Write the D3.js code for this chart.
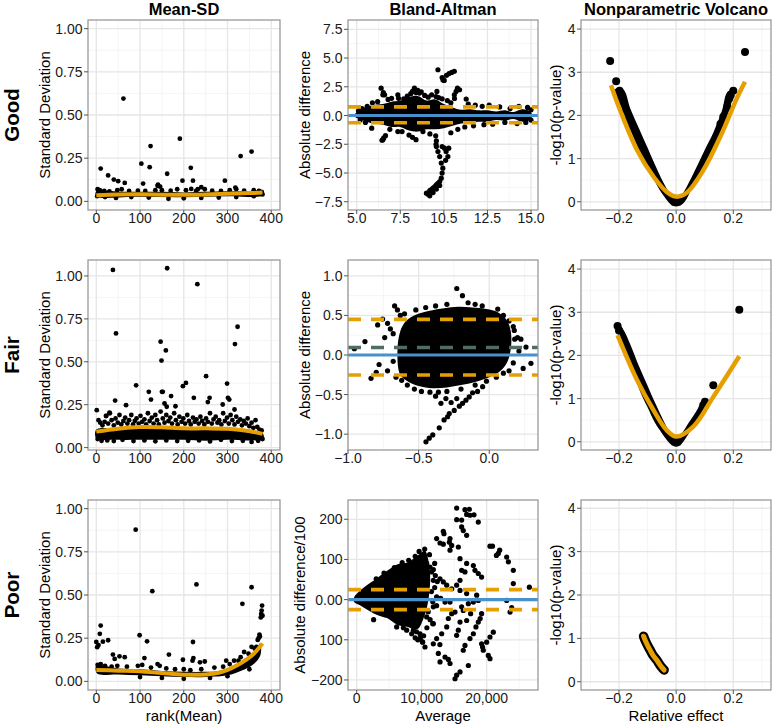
<!DOCTYPE html>
<html><head><meta charset="utf-8">
<script src="https://cdn.jsdelivr.net/npm/d3@7"></script>
<style>body{margin:0;background:#fff;} text{font-family:"Liberation Sans",Arial,Helvetica,sans-serif;}</style>
</head><body><svg id="c" width="776" height="725"></svg>
<script>
// ---------------- DATA ----------------
const rowLabels = ["Good","Fair","Poor"];
const colTitles = ["Mean-SD","Bland-Altman","Nonparametric Volcano"];
const xTitles = ["rank(Mean)","Average","Relative effect"];
const yTitlesMSD = "Standard Deviation";
const yTitlesBA = ["Absolute difference","Absolute difference","Absolute difference/100"];
const yTitleV = "-log10(p-value)";

const msdXTicks=[0,100,200,300,400], msdXLabels=["0","100","200","300","400"];
const msdYTicks=[0,0.25,0.5,0.75,1], msdYLabels=["0.00","0.25","0.50","0.75","1.00"];
const goodBAXTicks=[5,7.5,10,12.5,15], goodBAXLabels=["5.0","7.5","10.5","12.5","15.0"];
const goodBAYTicks=[-7.5,-5,-2.5,0,2.5,5,7.5], goodBAYLabels=["\u22127.5","\u22125.0","\u22122.5","0.0","2.5","5.0","7.5"];
const fairBAXTicks=[-1,-0.5,0], fairBAXLabels=["\u22121.0","\u22120.5","0.0"];
const fairBAYTicks=[-1,-0.5,0,0.5,1], fairBAYLabels=["\u22121.0","\u22120.5","0.0","0.5","1.0"];
const poorBAXTicks=[0,10000,20000], poorBAXLabels=["0","10,000","20,000"];
const poorBAYTicks=[-200,-100,0,100,200], poorBAYLabels=["\u2212200","100","0.00","100","200"];
const volXTicks=[-0.2,0,0.2], volXLabels=["\u22120.2","0.0","0.2"];
const volYTicks=[0,1,2,3,4], volYLabels=["0","1","2","3","4"];

// Mean-SD, Good
const goodMSD_core=[[0,0.06],[50,0.056],[100,0.056],[150,0.055],[200,0.052],[250,0.055],[300,0.058],[350,0.06],[382,0.062],[382,0.035],[300,0.03],[200,0.024],[100,0.026],[0,0.03]];
const goodMSD_pts=[[62,0.595],[10,0.19],[27,0.15],[40,0.126],[50,0.117],[65,0.107],[103,0.218],[107,0.103],[122,0.198],[124,0.32],[141,0.097],[146,0.085],[162,0.16],[191,0.363],[197,0.12],[216,0.194],[221,0.12],[217,0.072],[240,0.082],[294,0.12],[330,0.262],[355,0.288],[318,0.08],[232,0.07],[378,0.055],
[3,0.07],[8,0.065],[18,0.06],[30,0.058],[48,0.065],[58,0.07],[75,0.06],[95,0.062],[112,0.06],[135,0.065],[140,0.09],[150,0.065],[170,0.062],[185,0.07],[205,0.065],[228,0.06],[248,0.07],[265,0.062],[285,0.06],[305,0.065],[320,0.07],[338,0.062],[360,0.065],[372,0.06],
[2,0.03],[20,0.025],[45,0.02],[80,0.025],[120,0.022],[165,0.015],[200,0.018],[240,0.02],[280,0.022],[320,0.025],[360,0.03],[380,0.04]];
const goodMSD_fit=[[0,0.036],[50,0.04],[100,0.041],[150,0.039],[200,0.038],[250,0.04],[300,0.044],[350,0.048],[380,0.051]];

// Mean-SD, Fair
const fairMSD_core=[[0,0.105],[40,0.115],[80,0.12],[120,0.122],[160,0.12],[200,0.115],[240,0.115],[280,0.115],[320,0.11],[350,0.1],[380,0.085],[382,0.05],[350,0.042],[300,0.045],[250,0.04],[200,0.045],[150,0.045],[100,0.045],[50,0.045],[0,0.055]];
const fairMSD_pts=[[1,0.218],[38,1.035],[45,0.665],[43,0.274],[162,1.045],[231,0.952],[147,0.617],[149,0.507],[159,0.566],[152,0.325],[317,0.603],[323,0.704],[91,0.363],[120,0.325],[125,0.28],[150,0.325],[171,0.3],[156,0.257],[198,0.358],[205,0.377],[223,0.29],[251,0.416],[259,0.29],[255,0.265],[299,0.373],[301,0.29],[304,0.28],[289,0.251],[316,0.222],[181,0.241],[161,0.238],[68,0.247],[30,0.203],[22,0.184],
[5,0.16],[9,0.145],[14,0.13],[19,0.15],[23,0.185],[27,0.14],[31,0.2],[35,0.16],[40,0.13],[44,0.17],[49,0.145],[53,0.19],[57,0.135],[62,0.155],[66,0.175],[71,0.14],[75,0.16],[80,0.19],[84,0.135],[88,0.155],[92,0.17],[97,0.14],[101,0.185],[105,0.15],[110,0.165],[114,0.135],[118,0.2],[122,0.155],[127,0.175],[131,0.14],[135,0.19],[139,0.16],[143,0.135],[147,0.21],[152,0.17],[156,0.145],[160,0.19],[165,0.155],[169,0.175],[173,0.14],[178,0.2],[182,0.16],[186,0.135],[190,0.18],[195,0.15],[199,0.17],[203,0.14],[208,0.19],[212,0.155],[216,0.135],[221,0.175],[225,0.15],[229,0.165],[234,0.14],[238,0.18],[242,0.155],[247,0.135],[251,0.17],[255,0.15],[260,0.2],[264,0.14],[268,0.165],[273,0.18],[277,0.145],[281,0.16],[286,0.135],[290,0.2],[294,0.155],[299,0.175],[303,0.14],[307,0.19],[311,0.16],[316,0.135],[320,0.18],[324,0.15],[329,0.165],[333,0.13],[337,0.155],[342,0.14],[346,0.17],[350,0.125],[355,0.145],[359,0.115],[364,0.16],[368,0.12],[373,0.105],[378,0.1],
[3,0.05],[12,0.04],[25,0.042],[40,0.038],[60,0.045],[85,0.038],[110,0.042],[135,0.037],[160,0.042],[185,0.038],[210,0.04],[235,0.042],[260,0.036],[285,0.045],[310,0.038],[335,0.04],[355,0.033],[370,0.04],[380,0.05]];
const fairMSD_fit=[[0,0.093],[50,0.11],[100,0.12],[150,0.118],[200,0.112],[250,0.112],[300,0.11],[340,0.1],[380,0.08]];

// Mean-SD, Poor
const poorMSD_core=[[0,0.09],[50,0.075],[100,0.07],[150,0.06],[200,0.055],[250,0.055],[280,0.06],[300,0.075],[320,0.1],[340,0.13],[360,0.17],[375,0.22],[375,0.15],[360,0.1],[340,0.07],[320,0.05],[300,0.035],[250,0.025],[200,0.025],[150,0.03],[100,0.035],[50,0.04],[2,0.045]];
const poorMSD_pts=[[0,0.228],[2,0.198],[5,0.21],[8,0.275],[10,0.323],[15,0.23],[27,0.238],[38,0.155],[42,0.13],[53,0.145],[65,0.14],[90,0.878],[99,0.267],[110,0.135],[116,0.232],[128,0.522],[166,0.155],[198,0.125],[221,0.228],[220,0.12],[222,0.135],[229,0.561],[237,0.11],[248,0.115],[297,0.12],[334,0.449],[355,0.545],[379,0.439],
[3,0.095],[10,0.1],[20,0.09],[35,0.085],[48,0.09],[70,0.085],[95,0.09],[105,0.095],[125,0.08],[140,0.1],[145,0.09],[160,0.075],[180,0.07],[200,0.07],[215,0.065],[240,0.07],[270,0.08],[290,0.085],[305,0.1],[315,0.12],[325,0.12],[330,0.14],[338,0.17],[342,0.12],[348,0.16],[350,0.07],[355,0.2],[362,0.19],[366,0.2],[369,0.24],[371,0.25],[373,0.27],[374,0.26],[376,0.37],[377,0.39],[378,0.41],[380,0.38],
[100,0.025],[150,0.02],[200,0.015],[260,0.02],[300,0.03]];
const poorMSD_fit=[[0,0.066],[50,0.062],[100,0.058],[150,0.048],[200,0.039],[250,0.04],[280,0.05],[300,0.066],[320,0.09],[343,0.126],[360,0.16],[380,0.219]];

// Bland-Altman, Good
const goodBA_core=[[4.9,0.1],[5.3,0.6],[5.9,0.9],[6.5,1.0],[7.0,1.2],[7.5,1.3],[8.0,1.6],[8.5,1.7],[9.0,1.3],[9.5,1.4],[10.0,1.0],[10.5,0.7],[11.0,0.5],[11.5,0.55],[12.0,0.45],[12.5,0.45],[13.0,0.35],[13.5,0.45],[14.0,0.3],[14.5,0.55],[15.0,0.3],[15.0,-0.3],[14.5,-0.55],[14.0,-0.3],[13.5,-0.45],[13.0,-0.4],[12.5,-0.55],[12.0,-0.55],[11.5,-0.6],[11.0,-0.7],[10.5,-0.9],[10.0,-1.1],[9.5,-1.2],[9.0,-1.2],[8.5,-1.4],[8.0,-1.3],[7.5,-1.0],[7.0,-1.0],[6.5,-0.8],[5.9,-0.7],[5.3,-0.4],[4.9,-0.1]];
const goodBA_pts=[[5.1,0.4],[5.3,0.6],[5.6,0.8],[5.9,1.1],[6.2,1.2],[6.4,2.38],[6.5,1.8],[6.53,2.0],[6.6,1.8],[6.8,1.4],[7.0,1.5],[7.36,1.8],[7.4,1.5],[7.7,1.45],[7.9,1.7],[8.1,1.9],[8.2,2.1],[8.31,2.38],[8.4,2.0],[8.5,2.2],[8.6,1.95],[8.7,2.05],[8.9,1.75],[9.1,1.6],[9.3,1.8],[9.55,1.65],[9.6,2.1],[9.7,1.55],[9.9,1.45],[10.2,1.3],[10.4,1.1],[10.6,1.8],[10.61,1.48],[10.7,2.1],[10.78,2.38],[10.9,2.24],[11.28,1.43],[11.4,1.0],[11.8,0.9],[12.2,0.8],[12.6,0.9],[13.2,0.75],[13.8,0.6],[14.3,0.8],[14.8,0.7],[15.0,0.5],
[9.66,3.98],[9.9,3.3],[9.95,3.1],[10.02,3.05],[10.15,3.5],[10.3,3.65],[10.45,3.75],[10.6,3.85],
[5.2,-0.4],[5.5,-0.6],[5.86,-1.1],[6.45,-2.15],[6.5,-2.1],[6.55,-1.95],[6.65,-1.75],[6.9,-1.2],[7.36,-1.4],[7.6,-1.4],[8.0,-1.7],[8.4,-2.1],[8.2,-1.9],[8.8,-1.4],[9.2,-1.6],[9.55,-2.5],[10.4,-1.5],[10.8,-1.2],[11.2,-1.0],[11.7,-0.9],[12.3,-0.8],[12.8,-0.75],[13.5,-0.6],[14.2,-0.7],[14.7,-0.6],[15.0,-0.4],
[9.53,-1.77],[9.57,-2.2],[9.57,-2.7],[9.66,-3.13],[9.76,-3.57],[9.9,-2.7],[10.04,-2.84],[10.13,-3.13],[10.28,-2.84],[10.23,-3.57],[10.1,-3.9],[9.85,-4.14],[9.94,-4.58],[9.9,-5.01],[9.85,-5.45],[9.76,-5.74],[9.57,-6.03],[9.38,-6.32],[9.19,-6.53],[9.0,-6.76],[9.19,-6.99],[9.38,-6.7],[9.57,-6.4],[9.76,-6.09],[9.1,-6.85],[9.28,-6.45],[9.48,-6.18],[9.66,-5.9]];
const goodBA_ref=[0], goodBA_loa=[0.75,-0.63];

// Bland-Altman, Fair
const fairBA_core=[[-0.63,-0.25],[-0.65,0.05],[-0.63,0.3],[-0.59,0.43],[-0.52,0.51],[-0.42,0.56],[-0.32,0.59],[-0.22,0.61],[-0.12,0.6],[-0.02,0.58],[0.06,0.54],[0.12,0.45],[0.15,0.32],[0.155,0.12],[0.13,-0.08],[0.08,-0.2],[0.0,-0.28],[-0.1,-0.34],[-0.2,-0.38],[-0.3,-0.41],[-0.4,-0.42],[-0.5,-0.39],[-0.57,-0.34]];
const fairBA_pts=[[-0.67,0.62],[-0.65,0.57],[-0.63,0.5],[-0.755,0.455],[-0.79,0.38],[-0.72,0.4],[-0.7,0.33],[-0.68,0.27],[-0.74,0.22],[-0.88,0.17],[-0.955,0.08],[-0.6,0.52],[-0.52,0.57],[-0.45,0.6],[-0.38,0.62],[-0.3,0.64],[-0.23,0.84],[-0.19,0.75],[-0.15,0.66],[-0.1,0.64],[-0.05,0.62],[0.06,0.58],[0.1,0.5],[0.14,0.43],[0.17,0.36],[0.177,0.31],[0.18,0.2],[0.2,0.22],[0.224,0.2],[0.26,0.1],[0.295,-0.105],[0.24,-0.17],[0.21,0.05],[0.17,-0.1],[0.14,-0.2],
[-0.837,-0.295],[-0.8,-0.22],[-0.78,-0.12],[-0.72,-0.2],[-0.68,-0.08],[-0.66,-0.28],[-0.62,-0.32],
[-0.58,-0.38],[-0.53,-0.43],[-0.48,-0.46],[-0.42,-0.47],[-0.36,-0.47],[-0.3,-0.46],[-0.2,-0.43],[-0.1,-0.38],[-0.02,-0.33],[0.05,-0.28],[0.1,-0.23],
[-0.448,-1.097],[-0.425,-1.05],[-0.4,-1.01],[-0.354,-0.92],[-0.342,-0.61],[-0.295,-0.78],[-0.283,-0.74],[-0.248,-0.7],[-0.212,-0.646],[-0.189,-0.61],[-0.165,-0.57],[-0.142,-0.53],[-0.118,-0.477],[-0.083,-0.46],[-0.047,-0.4],[-0.307,-0.55],[-0.32,-0.82],[-0.27,-0.6],[-0.38,-0.52],[-0.23,-0.55]];
const fairBA_ref=[0], fairBA_mean=[0.095], fairBA_loa=[0.45,-0.253];

// Bland-Altman, Poor
const poorBA_core=[[-400,6],[500,22],[1500,35],[2700,48],[3800,62],[4800,73],[6300,88],[7900,93],[8900,104],[10000,118],[10500,122],[11000,100],[11300,60],[11200,20],[10800,-20],[10200,-50],[9500,-72],[8900,-74],[7900,-68],[6300,-63],[4800,-47],[3800,-42],[2700,-35],[1500,-24],[500,-14],[-400,-6]];
const poorBA_pts=[[15385,228],[15385,199],[16150,198],[16660,224],[17330,225],[16920,212],[17430,210],[18050,211],[18710,193],[16150,181],[16400,172],[16920,160],[13330,170],[13430,164],[12300,152],[12820,141],[13330,138],[14360,152],[14260,143],[14620,135],[15640,131],[14360,123],[15900,102],[17950,85],[18200,73],[18710,65],[19220,56],[16150,73],[16660,69],[16920,90],[20510,133],[20900,133],[21790,115],[22000,123],[21500,110],[23080,106],[23340,94],[24100,73],[24100,40],[26570,31],[23600,-31],[23850,-20],[23080,-2],[18460,11],[17180,-10],[16150,-18],[15130,-31],[14620,-35],[14100,-47],[13850,-68],[13080,-85],[12300,-97],[11790,-110],[10150,-106],[10510,-118],[12560,-134],[13590,-143],[12820,-155],[14360,-159],[14100,-149],[15130,-197],[15380,-188],[15900,-180],[17180,-164],[16400,-126],[16660,-114],[17430,-97],[17950,-85],[18350,-68],[18710,-56],[19000,-47],[19220,-35],[19480,-126],[19370,-118],[19220,-110],[20000,-106],[20510,-93],[20250,-139],[20510,-147],[21020,-81],[16400,-27],[15900,-56],[15640,-76],[15380,-89],[16920,-52],[17530,-35],[12920,3],[12300,7],[11790,48],[12820,52],[13330,44],[13850,36],[14620,27],[13590,-6],[14360,-6],[17950,-6],[18710,-2],[10770,90],[11280,81],[11540,69],[15380,36],[15900,48],[11790,-60],[10770,-43],[8720,-76],[8460,-85],[9740,-85],[7180,-70],[7690,-76],[6150,-68],[2600,-50],[11790,-18],[16920,15],[15900,23],
[12000,90],[11800,75],[12100,60],[12400,45],[12000,30],[11500,20],[11700,-5],[12300,-15],[11000,-30],[11300,-50],[10800,-70],[10300,-90],[9800,-95],[9400,-100],[10100,-105],[12800,-112],[11700,-60],[9000,-95],[9200,-80],[3000,52],[4200,66],[5800,80],[7000,92],[8000,98],[9000,108],[9600,120],[10460,126],[11200,112]];
const poorBA_ref=[0], poorBA_loa=[25,-25];

// Volcano, Good
const goodV_core=[[-0.215,2.6],[-0.19,2.15],[-0.16,1.65],[-0.13,1.2],[-0.1,0.8],[-0.07,0.42],[-0.045,0.15],[-0.025,-0.02],[-0.01,-0.1],[0.01,-0.1],[0.03,0.0],[0.055,0.3],[0.09,0.72],[0.125,1.15],[0.155,1.6],[0.18,2.0],[0.2,2.45],[0.205,2.6],[0.18,2.55],[0.16,2.1],[0.13,1.6],[0.1,1.2],[0.075,0.85],[0.045,0.45],[0.02,0.17],[0.0,0.1],[-0.02,0.18],[-0.045,0.45],[-0.07,0.8],[-0.1,1.25],[-0.13,1.7],[-0.16,2.15],[-0.185,2.6]];
const goodV_pts=[[-0.231,3.26],[-0.21,2.79],[-0.198,2.57],[-0.19,2.43],[-0.184,2.31],[-0.175,2.12],[-0.17,1.93],[-0.16,1.75],[0.241,3.47],[0.2,2.57],[0.191,2.47],[0.186,2.39],[0.179,2.2],[0.165,1.97],[0.155,1.8]];
const goodV_fit=[[-0.228,2.7],[-0.196,2.12],[-0.137,1.2],[-0.079,0.58],[-0.033,0.23],[0,0.12],[0.037,0.21],[0.095,0.73],[0.154,1.5],[0.212,2.39],[0.241,2.78]];

// Volcano, Fair
const fairV_core=[[-0.21,2.7],[-0.2,2.45],[-0.175,2.0],[-0.15,1.6],[-0.125,1.15],[-0.1,0.8],[-0.075,0.45],[-0.05,0.2],[-0.03,0.02],[-0.01,-0.1],[0.01,-0.1],[0.03,0.05],[0.055,0.3],[0.08,0.55],[0.105,0.85],[0.11,0.95],[0.095,0.97],[0.07,0.7],[0.045,0.45],[0.02,0.2],[0.0,0.1],[-0.02,0.2],[-0.045,0.5],[-0.07,0.85],[-0.1,1.3],[-0.13,1.75],[-0.16,2.25],[-0.185,2.6],[-0.2,2.72]];
const fairV_pts=[[-0.205,2.68],[-0.2,2.58],[-0.19,2.43],[-0.185,2.35],[0.221,3.06],[0.13,1.31],[0.101,0.93],[0.095,0.85]];
const fairV_fit=[[-0.205,2.47],[-0.137,1.43],[-0.079,0.73],[-0.033,0.27],[0,0.12],[0.06,0.35],[0.13,1.04],[0.221,1.98]];

// Volcano, Poor
const poorV_curve=[[-0.114,1.05],[-0.108,0.95],[-0.1,0.84],[-0.091,0.73],[-0.08,0.6],[-0.068,0.5],[-0.058,0.4],[-0.05,0.33],[-0.042,0.27]];

// ---------------- DRAWING ----------------
const svg=d3.select('#c');
const ORANGE='#E69F00', BLUE='#4A90CD', GREEN='#4F6E5F';
const colX=[[88,280],[348,538],[581,771]];
const rowY=[[20,210],[260,450],[500,690]];
const defs=svg.append('defs');

function minorOf(t,dom){const s=t[1]-t[0];const out=[];for(let v=t[0]-s/2;v<=dom[1]+1e-9;v+=s){if(v>=dom[0]-1e-9)out.push(v);}return out;}

function panel(ci,ri,c,draw){
  const [x0,x1]=colX[ci],[y0,y1]=rowY[ri];
  const x=d3.scaleLinear().domain(c.xd).range([x0,x1]);
  const y=d3.scaleLinear().domain(c.yd).range([y1,y0]);
  const g=svg.append('g');
  g.append('rect').attr('x',x0).attr('y',y0).attr('width',x1-x0).attr('height',y1-y0).attr('fill','#fff');
  minorOf(c.xt,c.xd).forEach(v=>g.append('line').attr('x1',x(v)).attr('x2',x(v)).attr('y1',y0).attr('y2',y1).attr('stroke','#f3f3f3').attr('stroke-width',0.8));
  minorOf(c.yt,c.yd).forEach(v=>g.append('line').attr('y1',y(v)).attr('y2',y(v)).attr('x1',x0).attr('x2',x1).attr('stroke','#f3f3f3').attr('stroke-width',0.8));
  c.xt.forEach(v=>g.append('line').attr('x1',x(v)).attr('x2',x(v)).attr('y1',y0).attr('y2',y1).attr('stroke','#e6e6e6').attr('stroke-width',1.3));
  c.yt.forEach(v=>g.append('line').attr('y1',y(v)).attr('y2',y(v)).attr('x1',x0).attr('x2',x1).attr('stroke','#e6e6e6').attr('stroke-width',1.3));
  const id='cp'+ci+'_'+ri;
  defs.append('clipPath').attr('id',id).append('rect').attr('x',x0).attr('y',y0).attr('width',x1-x0).attr('height',y1-y0);
  const d=g.append('g').attr('clip-path',`url(#${id})`);
  draw(d,x,y,x0,x1);
  g.append('rect').attr('x',x0).attr('y',y0).attr('width',x1-x0).attr('height',y1-y0).attr('fill','none').attr('stroke','#9a9a9a').attr('stroke-width',1.3);
  c.yt.forEach((v,i)=>{
    g.append('line').attr('x1',x0-4).attr('x2',x0).attr('y1',y(v)).attr('y2',y(v)).attr('stroke','#555').attr('stroke-width',1);
    g.append('text').attr('x',x0-5.5).attr('y',y(v)).attr('dy','0.36em').attr('text-anchor','end').attr('font-size',14).attr('fill','#1a1a1a').text(c.yl[i]);
  });
  c.xt.forEach((v,i)=>{
    g.append('line').attr('x1',x(v)).attr('x2',x(v)).attr('y1',y1).attr('y2',y1+4).attr('stroke','#555').attr('stroke-width',1);
    g.append('text').attr('x',x(v)).attr('y',y1+13).attr('text-anchor','middle').attr('font-size',14).attr('fill','#1a1a1a').text(c.xl[i]);
  });
}

function pts(d,x,y,data,r){d.append('g').selectAll('circle').data(data).join('circle').attr('cx',p=>x(p[0])).attr('cy',p=>y(p[1])).attr('r',r).attr('fill','#000');}
function core(d,x,y,data){d.append('path').attr('d',d3.line().x(p=>x(p[0])).y(p=>y(p[1])).curve(d3.curveCatmullRomClosed)(data)).attr('fill','#000');}
function fit(d,x,y,data,w){d.append('path').attr('d',d3.line().x(p=>x(p[0])).y(p=>y(p[1])).curve(d3.curveCatmullRom)(data)).attr('fill','none').attr('stroke',ORANGE).attr('stroke-width',w).attr('stroke-linecap','butt');}
function hline(d,x,y,vals,color,dash,w,x0,x1){vals.forEach(v=>d.append('line').attr('x1',x0).attr('x2',x1).attr('y1',y(v)).attr('y2',y(v)).attr('stroke',color).attr('stroke-width',w).attr('stroke-dasharray',dash));}

const DASH='13,10';
const msdCfg=(yd)=>({xd:[-19,420],yd:yd,xt:msdXTicks,xl:msdXLabels,yt:msdYTicks,yl:msdYLabels});
panel(0,0,msdCfg([-0.05,1.05]),(d,x,y)=>{core(d,x,y,goodMSD_core);pts(d,x,y,goodMSD_pts,2.4);fit(d,x,y,goodMSD_fit,4);});
panel(0,1,msdCfg([-0.014,1.093]),(d,x,y)=>{core(d,x,y,fairMSD_core);pts(d,x,y,fairMSD_pts,2.4);fit(d,x,y,fairMSD_fit,4);});
panel(0,2,msdCfg([-0.05,1.05]),(d,x,y)=>{core(d,x,y,poorMSD_core);pts(d,x,y,poorMSD_pts,2.4);fit(d,x,y,poorMSD_fit,4);});

panel(1,0,{xd:[4.5,15.4],yd:[-8.22,8.31],xt:goodBAXTicks,xl:goodBAXLabels,yt:goodBAYTicks,yl:goodBAYLabels},(d,x,y,x0,x1)=>{
  core(d,x,y,goodBA_core);pts(d,x,y,goodBA_pts,2.6);
  hline(d,x,y,goodBA_ref,BLUE,null,3.2,x0,x1);
  hline(d,x,y,goodBA_loa,ORANGE,DASH,3.6,x0,x1);
});
panel(1,1,{xd:[-1.0,0.345],yd:[-1.2,1.2],xt:fairBAXTicks,xl:fairBAXLabels,yt:fairBAYTicks,yl:fairBAYLabels},(d,x,y,x0,x1)=>{
  core(d,x,y,fairBA_core);pts(d,x,y,fairBA_pts,2.6);
  hline(d,x,y,fairBA_ref,BLUE,null,3.2,x0,x1);
  hline(d,x,y,fairBA_mean,GREEN,DASH,3.6,x0,x1);
  hline(d,x,y,fairBA_loa,ORANGE,DASH,3.6,x0,x1);
});
panel(1,2,{xd:[-1340,27900],yd:[-225,248],xt:poorBAXTicks,xl:poorBAXLabels,yt:poorBAYTicks,yl:poorBAYLabels},(d,x,y,x0,x1)=>{
  core(d,x,y,poorBA_core);pts(d,x,y,poorBA_pts,2.6);
  hline(d,x,y,poorBA_ref,BLUE,null,3.2,x0,x1);
  hline(d,x,y,poorBA_loa,ORANGE,DASH,3.6,x0,x1);
});

const volCfg=(yd)=>({xd:[-0.333,0.332],yd:yd,xt:volXTicks,xl:volXLabels,yt:volYTicks,yl:volYLabels});
panel(2,0,volCfg([-0.19,4.21]),(d,x,y)=>{core(d,x,y,goodV_core);pts(d,x,y,goodV_pts,4);fit(d,x,y,goodV_fit,4.5);});
panel(2,1,volCfg([-0.19,4.21]),(d,x,y)=>{core(d,x,y,fairV_core);pts(d,x,y,fairV_pts,4);fit(d,x,y,fairV_fit,4.5);});
panel(2,2,volCfg([-0.19,4.19]),(d,x,y)=>{
  const ln=d3.line().x(p=>x(p[0])).y(p=>y(p[1])).curve(d3.curveCatmullRom);
  d.append('path').attr('d',ln(poorV_curve)).attr('fill','none').attr('stroke','#000').attr('stroke-width',9.5).attr('stroke-linecap','round').attr('stroke-linejoin','round');
  d.append('path').attr('d',ln(poorV_curve)).attr('fill','none').attr('stroke',ORANGE).attr('stroke-width',5).attr('stroke-linecap','round').attr('stroke-linejoin','round');
});

// titles
const colCenters=colX.map(c=>(c[0]+c[1])/2), rowCenters=rowY.map(r=>(r[0]+r[1])/2);
colTitles.forEach((t,i)=>svg.append('text').attr('x',colCenters[i]).attr('y',15).attr('text-anchor','middle').attr('font-size',16.5).attr('font-weight','bold').attr('fill','#000').text(t));
rowLabels.forEach((t,i)=>svg.append('text').attr('transform',`translate(19,${rowCenters[i]}) rotate(-90)`).attr('text-anchor','middle').attr('font-size',20.5).attr('font-weight','bold').attr('fill','#000').text(t));
xTitles.forEach((t,i)=>svg.append('text').attr('x',colCenters[i]).attr('y',720.5).attr('text-anchor','middle').attr('font-size',15).attr('fill','#000').text(t));
rowY.forEach((r,i)=>{
  const cy=rowCenters[i];
  svg.append('text').attr('transform',`translate(50,${cy}) rotate(-90)`).attr('text-anchor','middle').attr('font-size',15).attr('fill','#000').text(yTitlesMSD);
  svg.append('text').attr('transform',`translate(${i===2?304.5:310},${cy}) rotate(-90)`).attr('text-anchor','middle').attr('font-size',15).attr('fill','#000').text(yTitlesBA[i]);
  svg.append('text').attr('transform',`translate(561,${cy}) rotate(-90)`).attr('text-anchor','middle').attr('font-size',15).attr('fill','#000').text(yTitleV);
});
</script></body></html>
